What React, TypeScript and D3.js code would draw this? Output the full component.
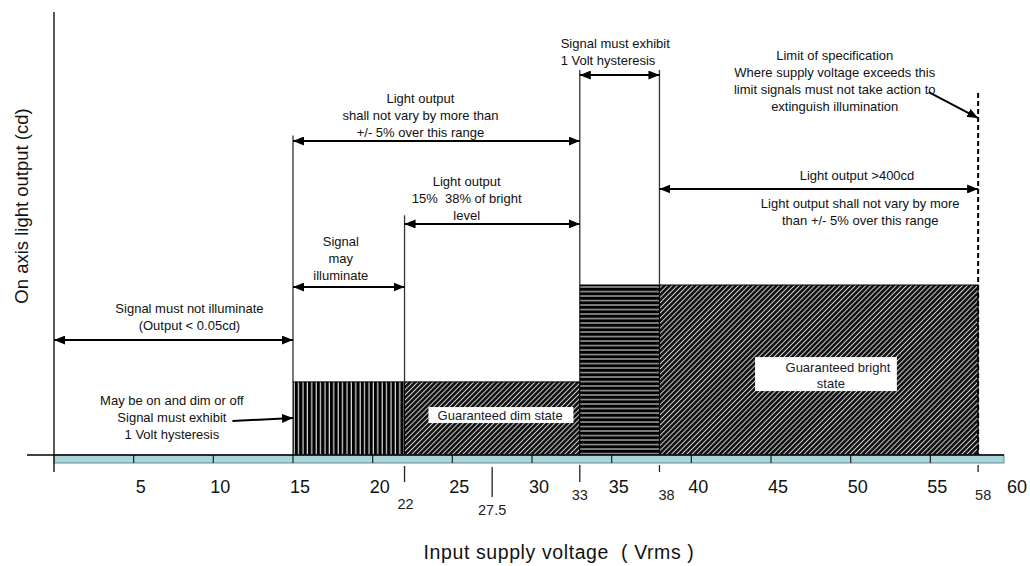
import React from 'react';
import * as d3 from 'd3';

const W = 1030;
const H = 566;

// ---- axis values ----
const majorTicks = [5, 10, 15, 20, 25, 30, 35, 40, 45, 50, 55, 60];
const majorTickLabels = ['5', '10', '15', '20', '25', '30', '35', '40', '45', '50', '55', '60'];
const specialTicks = [22, 27.5, 33, 38, 58];
const specialTickLabels = ['22', '27.5', '33', '38', '58'];

// ---- regions (voltage start/end, relative light level, pattern) ----
const regionStart = [15, 22, 33, 38];
const regionEnd = [22, 33, 38, 58];
const regionLevel = [43, 43, 100, 100];
const regionPattern = ['vstripe', 'diag', 'hstripe', 'diag'];

// ---- vertical guide lines ----
const guideX = [15, 22, 33, 38];
const guideTop = [188, 141, 226.5, 226.5];
const guideBottom = [43, 43, 100, 100];
const limitX = 58;
const limitTop = 213;

// ---- double-headed range arrows ----
const arrowFrom = [0, 15, 15, 22, 33, 38];
const arrowTo = [15, 22, 33, 33, 38, 58];
const arrowLevel = [67.6, 98.8, 184.7, 135.9, 223.5, 156.5];

// ---- pointer arrows (x1, level1) -> (x2, level2) ----
const pointerX1 = [11.2, 54.9];
const pointerL1 = [20, 213.5];
const pointerX2 = [15, 58];
const pointerL2 = [21.8, 198.2];

// ---- annotation texts ----
const annoLines: string[][] = [
  ['Signal must not illuminate', '(Output < 0.05cd)'],
  ['May be on and dim or off', 'Signal must exhibit', '1 Volt hysteresis'],
  ['Signal', 'may', 'illuminate'],
  ['Light output', 'shall not vary by more than', '+/- 5% over this range'],
  ['Light output', '15%  38% of bright', 'level'],
  ['Signal must exhibit', '1 Volt hysteresis'],
  ['Limit of specification', 'Where supply voltage exceeds this', 'limit signals must not take action to', 'extinguish illumination'],
  ['Light output >400cd'],
  ['Light output shall not vary by more', 'than +/- 5% over this range'],
];
const annoX = [8.5, 7.4, 18.0, 23.0, 25.9, 31.8, 49.0, 50.4, 50.6];
const annoLevel = [83.5, 29.4, 122.9, 207, 158.2, 239.4, 232.4, 161.8, 145.3];
const annoAnchor = ['middle', 'middle', 'middle', 'middle', 'middle', 'start', 'middle', 'middle', 'middle'];

// ---- boxed state labels ----
const stateLines: string[][] = [['Guaranteed dim state'], ['Guaranteed bright', 'state']];
const stateX = [28.0, 49.2];
const stateLevel = [20.6, 48.8];
const stateBoxX0 = [23.5, 44.0];
const stateBoxX1 = [32.6, 52.9];
const stateBoxTop = [28.2, 57.6];
const stateBoxBottom = [18.8, 37.6];

export default function App() {
  const x = d3.scaleLinear().domain([0, 60]).range([54, 1010]);
  const y = d3.scaleLinear().domain([0, 100]).range([455, 285]);
  const axisY = y(0);
  const font = "'Liberation Sans', Arial, sans-serif";
  const lh = 17;
  const specialLen: Record<string, [number, number, number]> = {
    '22': [466, 482, 509],
    '27.5': [467, 497, 515],
    '33': [465, 482, 500],
    '38': [465, 472, 500],
    '58': [465, 472, 500],
  };
  const specialDx: Record<string, number> = { '22': 1, '27.5': 0, '33': 0, '38': 7, '58': 5 };

  return (
    <svg width={W} height={H} style={{ position: 'absolute', left: 0, top: 0, background: '#fff' }} fontFamily={font}>
      <defs>
        <marker id="ah" viewBox="0 0 11 9" refX="11" refY="4.5" markerWidth="11" markerHeight="9" markerUnits="userSpaceOnUse" orient="auto-start-reverse">
          <path d="M0,0 L11,4.5 L0,9 Z" fill="#000" />
        </marker>
        <pattern id="vstripe" width="4.4" height="10" patternUnits="userSpaceOnUse">
          <rect width="4.4" height="10" fill="#ddd" />
          <rect width="3.2" height="10" fill="#000" />
        </pattern>
        <pattern id="diag" width="3.6" height="3.6" patternUnits="userSpaceOnUse" patternTransform="rotate(45)">
          <rect width="3.6" height="3.6" fill="#141414" />
          <rect width="0.9" height="3.6" fill="#d8d8d8" />
        </pattern>
        <pattern id="hstripe" width="10" height="4.5" patternUnits="userSpaceOnUse">
          <rect width="10" height="4.5" fill="#000" />
          <rect y="2.9" width="10" height="1.3" fill="#b8b8b8" />
        </pattern>
      </defs>

      {/* regions */}
      {regionStart.map((s, i) => (
        <rect key={'r' + i} x={x(s)} y={y(regionLevel[i])} width={x(regionEnd[i]) - x(s)} height={axisY - y(regionLevel[i])}
          fill={`url(#${regionPattern[i]})`} stroke="#000" strokeWidth={1} />
      ))}

      {/* state boxes */}
      {stateLines.map((ls, i) => (
        <g key={'s' + i}>
          <rect x={x(stateBoxX0[i])} y={y(stateBoxTop[i])} width={x(stateBoxX1[i]) - x(stateBoxX0[i])}
            height={y(stateBoxBottom[i]) - y(stateBoxTop[i])} fill="#fff" />
          {ls.map((t, j) => (
            <text key={j} x={x(stateX[i]) - (j === 1 ? 7 : 0)} y={y(stateLevel[i]) + j * 16} textAnchor="middle" fontSize={13} fill="#1a1a2a">{t}</text>
          ))}
        </g>
      ))}

      {/* guides */}
      {guideX.map((g, i) => (
        <line key={'g' + i} x1={x(g)} x2={x(g)} y1={y(guideTop[i])} y2={y(guideBottom[i])} stroke="#333" strokeWidth={1.3} />
      ))}
      <line x1={x(limitX)} x2={x(limitX)} y1={y(limitTop)} y2={axisY} stroke="#000" strokeWidth={2} strokeDasharray="5 3" />

      {/* range arrows */}
      {arrowFrom.map((f, i) => (
        <line key={'a' + i} x1={x(f)} x2={x(arrowTo[i])} y1={y(arrowLevel[i])} y2={y(arrowLevel[i])} stroke="#000" strokeWidth={2}
          markerStart="url(#ah)" markerEnd="url(#ah)" />
      ))}
      {pointerX1.map((p, i) => (
        <line key={'p' + i} x1={x(p)} y1={y(pointerL1[i])} x2={x(pointerX2[i])} y2={y(pointerL2[i])} stroke="#000" strokeWidth={2} markerEnd="url(#ah)" />
      ))}

      {/* annotations */}
      {annoLines.map((ls, i) => (
        <text key={'t' + i} fontSize={13} fill="#111" textAnchor={annoAnchor[i]}>
          {ls.map((t, j) => (
            <tspan key={j} x={x(annoX[i])} y={y(annoLevel[i]) + j * lh} style={{ whiteSpace: 'pre' }}>{t}</tspan>
          ))}
        </text>
      ))}

      {/* axis band */}
      <rect x={x(0)} y={axisY} width={x(60) - x(0) - 6} height={8} fill="#a9d6da" stroke="#6a8a8c" strokeWidth={1} />
      {majorTicks.filter((t) => t < 60).map((t) => (
        <line key={'mt' + t} x1={x(t)} x2={x(t)} y1={axisY} y2={axisY + 8} stroke="#222" strokeWidth={1.2} />
      ))}
      <line x1={27} x2={x(60) - 6} y1={axisY} y2={axisY} stroke="#000" strokeWidth={1.3} />
      <line x1={x(0)} x2={x(0)} y1={12} y2={472} stroke="#000" strokeWidth={1.3} />

      {majorTicks.map((t, i) => (
        <text key={'ml' + t} x={x(t) + 7} y={493} textAnchor="middle" fontSize={18} fill="#111">{majorTickLabels[i]}</text>
      ))}
      {specialTicks.map((t, i) => {
        const lab = specialTickLabels[i];
        const [a, b, ly] = specialLen[lab];
        return (
          <g key={'st' + t}>
            <line x1={x(t)} x2={x(t)} y1={a} y2={b} stroke="#222" strokeWidth={1.3} />
            <text x={x(t) + specialDx[lab]} y={ly} textAnchor="middle" fontSize={14.5} fill="#222">{lab}</text>
          </g>
        );
      })}

      {/* axis titles */}
      <text x={559} y={559} textAnchor="middle" fontSize={19.5} letterSpacing={0.6} fill="#111" style={{ whiteSpace: 'pre' }}>Input supply voltage  ( Vrms )</text>
      <text transform="translate(28,206) rotate(-90)" textAnchor="middle" fontSize={18.5} fill="#111">On axis light output (cd)</text>
    </svg>
  );
}
